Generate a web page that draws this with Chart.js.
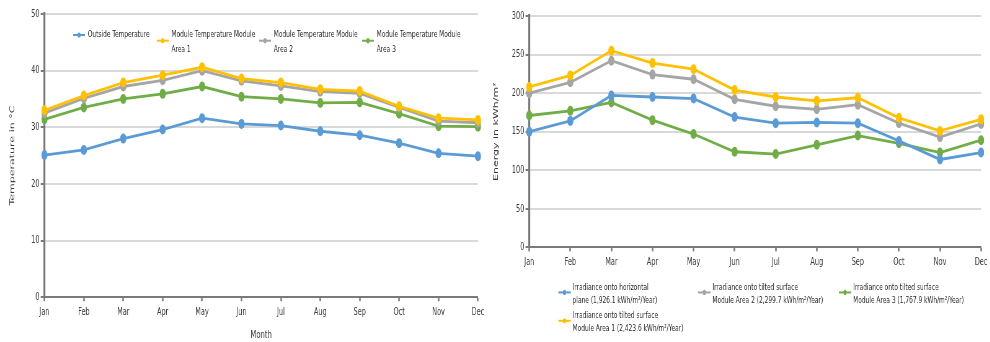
<!DOCTYPE html>
<html>
<head>
<meta charset="utf-8">
<script src="https://cdn.jsdelivr.net/npm/chart.js@4.4.1/dist/chart.umd.min.js"></script>
<style>
  html, body { margin: 0; padding: 0; overflow: hidden; background: #fff; }
  /* the source picture is squeezed horizontally and a bit soft, so the stage is too */
  #stage { position: relative; width: 1597px; height: 342px; transform: scaleX(0.62); transform-origin: 0 0; filter: blur(0.45px); }
  .box { position: absolute; top: 0; height: 342px; }
  #leftBox { left: 0; width: 786px; }
  #rightBox { left: 787px; width: 810px; }
</style>
</head>
<body>
<div id="stage">
  <div class="box" id="leftBox"><canvas id="tempChart"></canvas></div>
  <div class="box" id="rightBox"><canvas id="irrChart"></canvas></div>
</div>
<script>
const months = ['Jan', 'Feb', 'Mar', 'Apr', 'May', 'Jun', 'Jul', 'Aug', 'Sep', 'Oct', 'Nov', 'Dec'];

// temperatures in °C
const outsideTemp = [25.1, 26.0, 28.0, 29.6, 31.6, 30.6, 30.3, 29.3, 28.6, 27.2, 25.4, 24.9];
const moduleTemp1 = [33.0, 35.6, 37.9, 39.2, 40.6, 38.6, 37.9, 36.7, 36.4, 33.7, 31.6, 31.3];
const moduleTemp2 = [32.5, 35.1, 37.2, 38.3, 40.0, 38.2, 37.3, 36.3, 36.0, 33.5, 31.1, 30.8];
const moduleTemp3 = [31.4, 33.5, 35.0, 35.9, 37.2, 35.4, 35.0, 34.3, 34.4, 32.4, 30.2, 30.1];
const tempTicks = [0, 10, 20, 30, 40, 50];

// irradiation in kWh/m²
const irrHorizontal = [150, 164, 197, 195, 193, 169, 161, 162, 161, 138, 114, 123];
const irrArea1 = [208, 223, 255, 239, 231, 204, 195, 190, 194, 168, 151, 166];
const irrArea2 = [200, 214, 242, 224, 218, 192, 183, 179, 185, 161, 143, 160];
const irrArea3 = [171, 177, 188, 165, 147, 124, 121, 133, 145, 135, 123, 139];
const irrTicks = [0, 50, 100, 150, 200, 250, 300];

const tempLabels = [
  ['Outside Temperature'],
  ['Module Temperature Module', 'Area 1'],
  ['Module Temperature Module', 'Area 2'],
  ['Module Temperature Module', 'Area 3']
];
const irrLabels = [
  ['Irradiance onto horizontal', 'plane (1,926.1 kWh/m²/Year)'],
  ['Irradiance onto tilted surface', 'Module Area 1 (2,423.6 kWh/m²/Year)'],
  ['Irradiance onto tilted surface', 'Module Area 2 (2,299.7 kWh/m²/Year)'],
  ['Irradiance onto tilted surface', 'Module Area 3 (1,767.9 kWh/m²/Year)']
];

const BLUE = '#5b9bd5', YELLOW = '#ffc000', GRAY = '#a5a5a5', GREEN = '#70ad47';
const TEXT = '#3a3a3a', AXIS = '#7a7a7a', GRID = '#d9d9d9';

Chart.defaults.font.family = "'DejaVu Sans', sans-serif";
Chart.defaults.font.size = 10;
Chart.defaults.color = TEXT;

// legend drawn at fixed slots, markers centred on two-line labels
const slotLegend = {
  id: 'slotLegend',
  afterDraw(chart, args, opts) {
    const ctx = chart.ctx;
    ctx.save();
    ctx.font = `${opts.fontSize}px 'DejaVu Sans', sans-serif`;
    ctx.textBaseline = 'middle';
    opts.slots.forEach((slot, i) => {
      const ds = chart.data.datasets[i];
      const lines = opts.labels[i];
      const my = slot.y + (lines.length - 1) * opts.lineHeight * 0.4;
      ctx.strokeStyle = ds.borderColor;
      ctx.lineWidth = 2;
      ctx.beginPath();
      ctx.moveTo(slot.x, my);
      ctx.lineTo(slot.x + opts.markerWidth, my);
      ctx.stroke();
      ctx.fillStyle = ds.borderColor;
      ctx.beginPath();
      ctx.arc(slot.x + opts.markerWidth / 2, my, 2.6, 0, Math.PI * 2);
      ctx.fill();
      ctx.fillStyle = '#2b2b2b';
      lines.forEach((t, k) => ctx.fillText(t, slot.x + opts.textOffset, slot.y + k * opts.lineHeight));
    });
    ctx.restore();
  }
};

const makeDataset = (label, data, color) => ({
  label: label.join(' '),
  data: data,
  borderColor: color,
  backgroundColor: color,
  borderWidth: 2.8,
  pointRadius: 5,
  pointBorderWidth: 0,
  tension: 0
});

const makeScales = (ticks, title, titlePad, xTickPad, xTitle) => ({
  x: {
    offset: false,
    grid: { display: true, drawOnChartArea: false, tickLength: 4, tickColor: AXIS, tickWidth: 2.5 },
    border: { color: AXIS, width: 2 },
    ticks: { color: TEXT, padding: xTickPad, maxRotation: 0, autoSkip: false, font: { size: 10.5 } },
    title: xTitle
  },
  y: {
    min: ticks[0],
    max: ticks[ticks.length - 1],
    afterBuildTicks: (axis) => { axis.ticks = ticks.map(v => ({ value: v })); },
    grid: { color: GRID, lineWidth: 2, tickLength: 6, tickColor: AXIS, tickWidth: 2 },
    border: { color: AXIS, width: 3.2 },
    ticks: { color: TEXT, padding: 2, font: { size: 10.5 } },
    title: { display: true, text: title, color: TEXT, font: { size: 11 }, padding: titlePad }
  }
});

new Chart(document.getElementById('tempChart'), {
  type: 'line',
  data: {
    labels: months,
    datasets: [
      makeDataset(tempLabels[0], outsideTemp, BLUE),
      makeDataset(tempLabels[1], moduleTemp1, YELLOW),
      makeDataset(tempLabels[2], moduleTemp2, GRAY),
      makeDataset(tempLabels[3], moduleTemp3, GREEN)
    ]
  },
  options: {
    responsive: true,
    maintainAspectRatio: false,
    animation: false,
    layout: { padding: { top: 14, right: 12, bottom: 0, left: 0 } },
    plugins: {
      legend: { display: false },
      tooltip: { enabled: false },
      slotLegend: {
        labels: tempLabels,
        fontSize: 9.5,
        lineHeight: 14.3,
        markerWidth: 19,
        textOffset: 23.5,
        slots: [{ x: 118, y: 35 }, { x: 253, y: 35 }, { x: 418, y: 35 }, { x: 584, y: 35 }]
      }
    },
    scales: makeScales(tempTicks, 'Temperature in °C', { top: 13.6, bottom: 21.5 }, 5,
      { display: true, text: 'Month', color: TEXT, font: { size: 11 }, padding: { top: 5, bottom: 0 } })
  },
  plugins: [slotLegend]
});

new Chart(document.getElementById('irrChart'), {
  type: 'line',
  data: {
    labels: months,
    datasets: [
      makeDataset(irrLabels[0], irrHorizontal, BLUE),
      makeDataset(irrLabels[1], irrArea1, YELLOW),
      makeDataset(irrLabels[2], irrArea2, GRAY),
      makeDataset(irrLabels[3], irrArea3, GREEN)
    ]
  },
  options: {
    responsive: true,
    maintainAspectRatio: false,
    animation: false,
    layout: { padding: { top: 16, right: 13, bottom: 69, left: 0 } },
    plugins: {
      legend: { display: false },
      tooltip: { enabled: false },
      slotLegend: {
        labels: irrLabels,
        fontSize: 9.5,
        lineHeight: 12.8,
        markerWidth: 20,
        textOffset: 23,
        slots: [{ x: 113.5, y: 287.3 }, { x: 113.5, y: 315.7 }, { x: 339, y: 287.3 }, { x: 566, y: 287.3 }]
      }
    },
    scales: makeScales(irrTicks, 'Energy in kWh/m²', { top: 6.4, bottom: 17 }, 4.5, { display: false })
  },
  plugins: [slotLegend]
});
</script>
</body>
</html>
